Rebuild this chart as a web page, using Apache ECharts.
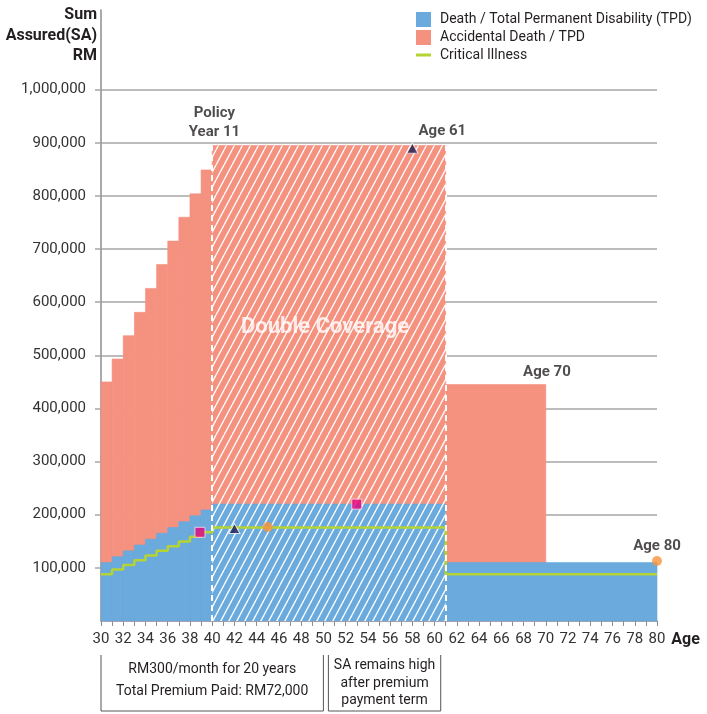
<!DOCTYPE html>
<html lang="en">
<head>
<meta charset="UTF-8">
<script src="https://cdn.jsdelivr.net/npm/echarts@6/dist/echarts.min.js"></script>
<title>Sum Assured</title>
<style>
  html, body { margin: 0; padding: 0; background: #fff; }
</style>
</head>
<body>
<div id="main" style="width:707px;height:714px;"></div>
<script type="text/javascript">
// coverage segments, one entry per block [start age, end age)
var segStart = [30, 31, 32, 33, 34, 35, 36, 37, 38, 39, 40, 61, 70];
var segEnd   = [31, 32, 33, 34, 35, 36, 37, 38, 39, 40, 61, 70, 80];
var deathTPD = [110000, 121000, 132000, 143000, 154000, 165000, 176000, 187000, 198000, 209000, 220000, 110000, 110000];
var accidentalTPD = [450000, 493000, 537000, 581000, 626000, 671000, 715000, 760000, 804000, 849000, 895000, 445000, null];

// critical illness step line
var ciAges = [30, 31, 32, 33, 34, 35, 36, 37, 38, 39, 40, 61, 80];
var ciValues = [88000, 96800, 105600, 114400, 123200, 132000, 140800, 149600, 158400, 167200, 176000, 88000, 88000];

// double coverage block
var hatchStart = 40, hatchEnd = 61, hatchTop = 895000;

// markers
var squarePts = [[38.9, 167000], [53, 220000]];
var trianglePts = [[42, 174000], [58, 890000]];
var circlePts = [[45, 177000], [80, 113000]];

var yTicks = [100000, 200000, 300000, 400000, 500000, 600000, 700000, 800000, 900000, 1000000];

var FONT = 'Roboto, "Liberation Sans", sans-serif';
var BLUE = '#6aaadd', RED = '#f4917f', GREEN = '#b5d334';

// diagonal white stripes
var pat = document.createElement('canvas');
pat.width = 8; pat.height = 15;
var pc = pat.getContext('2d');
pc.strokeStyle = 'rgba(255,255,255,0.95)';
pc.lineWidth = 1.4;
for (var k = -1; k <= 1; k++) {
    pc.beginPath();
    pc.moveTo(k * 8, 15);
    pc.lineTo(k * 8 + 8, 0);
    pc.stroke();
}

function rectItem(params, api, fill) {
    var p0 = api.coord([api.value(0), api.value(3)]);
    var p1 = api.coord([api.value(1), api.value(2)]);
    return {
        type: 'rect',
        shape: {x: p0[0], y: p0[1], width: p1[0] - p0[0], height: p1[1] - p0[1]},
        style: {fill: fill, stroke: typeof fill === 'string' ? fill : null, lineWidth: 0.6}
    };
}

var redData = [], blueData = [];
for (var i = 0; i < segStart.length; i++) {
    if (accidentalTPD[i] != null) redData.push([segStart[i], segEnd[i], 0, accidentalTPD[i]]);
    blueData.push([segStart[i], segEnd[i], 0, deathTPD[i]]);
}
var ciData = ciAges.map(function (a, i) { return [a, ciValues[i]]; });

var labelStyle = {fontFamily: FONT, fontWeight: 'bold', fontSize: 15, color: '#231f20', lineHeight: 19};

var myChart = echarts.init(document.getElementById('main'));
var option = {
    animation: false,
    legend: {
        orient: 'vertical',
        left: 411,
        top: 7,
        itemWidth: 15,
        itemHeight: 15,
        itemGap: 3,
        symbolKeepAspect: true,
        textStyle: {fontFamily: FONT, fontSize: 14, color: '#231f20', padding: [0, 0, 0, 4]},
        data: [
            {name: 'Death / Total Permanent Disability (TPD)', icon: 'rect'},
            {name: 'Accidental Death / TPD', icon: 'rect'},
            {name: 'Critical Illness', icon: 'path://M0,0 H15 V3 H0 Z'}
        ]
    },
    grid: {left: 101, right: 50, top: 10, bottom: 93},
    xAxis: {
        type: 'value',
        min: 30,
        max: 80,
        interval: 2,
        name: 'Age',
        nameLocation: 'end',
        nameGap: 14,
        nameTextStyle: {fontFamily: FONT, fontWeight: 'bold', fontSize: 16, color: '#231f20', verticalAlign: 'top', padding: [11, 0, 0, 0]},
        axisLine: {lineStyle: {color: '#8c8c8c', width: 1.5}},
        axisTick: {show: true, length: 5, lineStyle: {color: '#8c8c8c'}},
        minorTick: {show: true, splitNumber: 2, length: 5, lineStyle: {color: '#8c8c8c'}},
        axisLabel: {fontFamily: FONT, fontSize: 15, color: '#333', margin: 11},
        splitLine: {show: false}
    },
    yAxis: {
        type: 'value',
        min: 0,
        max: 1150000,
        interval: 100000,
        axisLine: {show: true, lineStyle: {color: '#8c8c8c', width: 1.5}},
        axisTick: {show: true, length: 6, customValues: yTicks, lineStyle: {color: '#a6a6a6', width: 1.5}},
        axisLabel: {
            fontFamily: FONT, fontSize: 15, color: '#333', margin: 15,
            customValues: yTicks,
            formatter: function (v) { return v.toLocaleString('en-US'); }
        },
        splitLine: {show: true, lineStyle: {color: '#a6a6a6', width: 1.5}}
    },
    series: [
        {
            name: 'Accidental Death / TPD',
            type: 'custom',
            itemStyle: {color: RED},
            renderItem: function (params, api) { return rectItem(params, api, RED); },
            encode: {x: [0, 1], y: [2, 3]},
            data: redData
        },
        {
            name: 'Death / Total Permanent Disability (TPD)',
            type: 'custom',
            itemStyle: {color: BLUE},
            renderItem: function (params, api) { return rectItem(params, api, BLUE); },
            encode: {x: [0, 1], y: [2, 3]},
            data: blueData
        },
        {
            name: 'hatch',
            type: 'custom',
            renderItem: function (params, api) {
                return rectItem(params, api, {image: pat, repeat: 'repeat'});
            },
            encode: {x: [0, 1], y: [2, 3]},
            data: [[hatchStart, hatchEnd, 0, hatchTop]],
            z: 3,
            markLine: {
                silent: true,
                symbol: 'none',
                label: {show: false},
                lineStyle: {color: '#fff', width: 2, type: [6, 4]},
                data: [
                    [{coord: [hatchStart, 0]}, {coord: [hatchStart, hatchTop]}],
                    [{coord: [hatchEnd, 0]}, {coord: [hatchEnd, hatchTop]}]
                ]
            }
        },
        {
            name: 'Critical Illness',
            type: 'line',
            step: 'end',
            showSymbol: false,
            z: 4,
            itemStyle: {color: GREEN},
            lineStyle: {color: GREEN, width: 2.5},
            data: ciData
        },
        {
            name: 'squares',
            type: 'scatter',
            symbol: 'rect',
            symbolSize: 10,
            z: 5,
            itemStyle: {color: '#e6007e', borderColor: '#fbe3ef', borderWidth: 1},
            data: squarePts
        },
        {
            name: 'triangles',
            type: 'scatter',
            symbol: 'triangle',
            symbolSize: [11, 10],
            z: 5,
            itemStyle: {color: '#1d1d4f', borderColor: '#ffffff', borderWidth: 1},
            data: trianglePts
        },
        {
            name: 'circles',
            type: 'scatter',
            symbol: 'circle',
            symbolSize: 10,
            z: 5,
            itemStyle: {color: '#f7943d'},
            data: circlePts
        },
        {
            name: 'labels',
            type: 'scatter',
            symbolSize: 0,
            silent: true,
            z: 6,
            label: {show: true, position: 'inside', formatter: '{b}'},
            data: [
                {name: 'Policy\nYear 11', value: [40.2, 937000], label: labelStyle},
                {name: 'Age 61', value: [60.7, 922000], label: labelStyle},
                {name: 'Age 70', value: [70.1, 469000], label: labelStyle},
                {name: 'Age 80', value: [80, 141000], label: labelStyle},
                {name: 'Double Coverage', value: [50.15, 553000],
                    label: {fontFamily: FONT, fontWeight: 'bold', fontSize: 22, color: '#fff'}}
            ]
        }
    ]
};
myChart.setOption(option);

// y axis title and bracket boxes under the x axis
function px(age) { return myChart.convertToPixel({xAxisIndex: 0}, age); }
var graphics = [{
    type: 'text',
    x: 97,
    y: 5,
    style: {
        text: 'Sum\nAssured(SA)\nRM', fontFamily: FONT, fontWeight: 'bold', fontSize: 16,
        lineHeight: 20.5, fill: '#231f20', align: 'right', verticalAlign: 'top'
    }
}];
var boxTop = 655, boxBottom = 711;
var boxes = [
    {from: 30, to: 50, lines: ['RM300/month for 20 years', 'Total Premium Paid: RM72,000'], ys: [669, 691]},
    {from: 50.45, to: 60.55, lines: ['SA remains high', 'after premium', 'payment term'], ys: [665, 683, 700]}
];
boxes.forEach(function (b) {
    var x0 = px(b.from), x1 = px(b.to);
    graphics.push({
        type: 'polyline',
        shape: {points: [[x0, boxTop], [x0, boxBottom], [x1, boxBottom], [x1, boxTop]]},
        style: {stroke: '#555', lineWidth: 1, fill: null}
    });
    b.lines.forEach(function (t, j) {
        graphics.push({
            type: 'text',
            x: (x0 + x1) / 2,
            y: b.ys[j],
            style: {text: t, fontFamily: FONT, fontSize: 14, fill: '#231f20', align: 'center', verticalAlign: 'middle'}
        });
    });
});
myChart.setOption({graphic: graphics});
</script>
</body>
</html>
